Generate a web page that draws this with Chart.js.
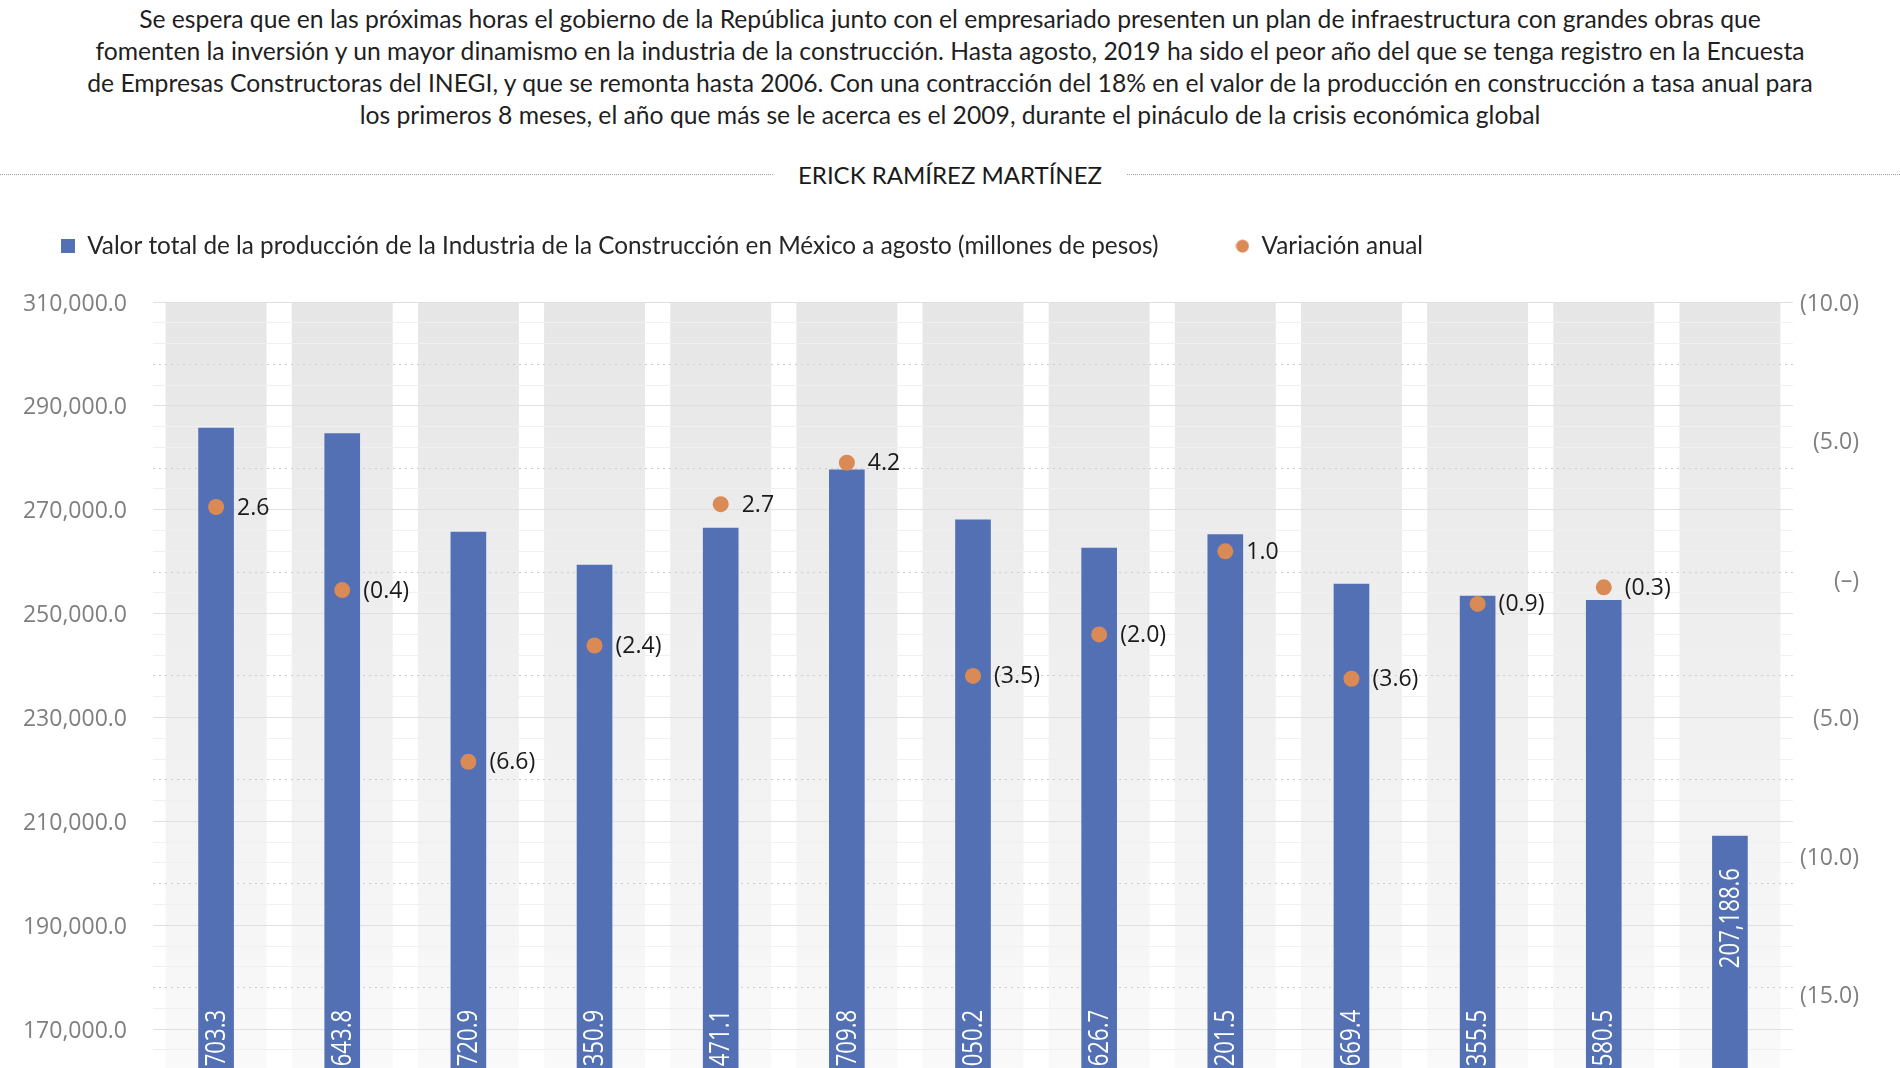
<!DOCTYPE html>
<html lang="es">
<head>
<meta charset="utf-8">
<script src="https://cdn.jsdelivr.net/npm/chart.js@4.4.1/dist/chart.umd.min.js"></script>
<style>
  html, body { margin: 0; padding: 0; width: 1900px; height: 1068px; overflow: hidden; background: #fff; }
  #intro { position: absolute; top: 3px; left: 0; width: 1900px; text-align: center;
    font-family: Lato, "Open Sans", sans-serif; font-size: 24.7px; line-height: 32px; color: #1f1f1f; }
  .rule { position: absolute; top: 174px; border-top: 1px dotted #a0a0a0; height: 0; }
  #author { position: absolute; top: 160px; left: 0; width: 1900px; text-align: center;
    font-family: Lato, "Open Sans", sans-serif; font-size: 24px; line-height: 30px; color: #1a1a1a; }
  #wrap { position: absolute; left: 0; top: 157px; width: 1900px; height: 1021px; }
</style>
</head>
<body>
<div id="intro">
  Se espera que en las próximas horas el gobierno de la República junto con el empresariado presenten un plan de infraestructura con grandes obras que<br>
  fomenten la inversión y un mayor dinamismo en la industria de la construcción. Hasta agosto, 2019 ha sido el peor año del que se tenga registro en la Encuesta<br>
  de Empresas Constructoras del INEGI, y que se remonta hasta 2006. Con una contracción del 18% en el valor de la producción en construcción a tasa anual para<br>
  los primeros 8 meses, el año que más se le acerca es el 2009, durante el pináculo de la crisis económica global
</div>
<div class="rule" style="left:0; width:773px;"></div>
<div class="rule" style="left:1127px; width:773px;"></div>
<div id="author">ERICK RAMÍREZ MARTÍNEZ</div>
<div id="wrap"><canvas id="chart"></canvas></div>

<script>
// datos: Encuesta Nacional de Empresas Constructoras, enero-agosto de cada año
const years = ["2007", "2008", "2009", "2010", "2011", "2012", "2013", "2014", "2015", "2016", "2017", "2018", "2019"];
const produccion = [285703.3, 284643.8, 265720.9, 259350.9, 266471.1, 277709.8, 268050.2, 262626.7, 265201.5, 255669.4, 253355.5, 252580.5, 207188.6];
const variacion = [2.6, -0.4, -6.6, -2.4, 2.7, 4.2, -3.5, -2.0, 1.0, -3.6, -0.9, -0.3, -18.0];

const BLUE = "#5470b4";
const ORANGE = "#d98a55";

const fmtMiles = (v) =>
  v.toLocaleString("en-US", { minimumFractionDigits: 1, maximumFractionDigits: 1 });
const fmtPct = (v) => (v < 0 ? `(${Math.abs(v).toFixed(1)})` : v.toFixed(1));

// little canvases used as legend markers
function marker(size, draw) {
  const c = document.createElement("canvas");
  c.width = size;
  c.height = size;
  draw(c.getContext("2d"), size);
  return c;
}
const squareMark = marker(14, (g, s) => { g.fillStyle = BLUE; g.fillRect(0, 0, s, s); });
const dotMark = marker(14, (g, s) => {
  g.fillStyle = ORANGE;
  g.beginPath();
  g.arc(s / 2, s / 2, 6.5, 0, Math.PI * 2);
  g.fill();
});

// grey column behind every year
const bands = {
  id: "bands",
  beforeDraw(chart) {
    const { ctx, chartArea, scales } = chart;
    const x = scales.x;
    const w = (x.getPixelForValue(1) - x.getPixelForValue(0)) * 0.8;
    const grad = ctx.createLinearGradient(0, chartArea.top, 0, chartArea.bottom);
    grad.addColorStop(0, "#e6e6e6");
    grad.addColorStop(1, "#fbfbfb");
    ctx.save();
    ctx.fillStyle = grad;
    years.forEach((_, i) => {
      const cx = x.getPixelForValue(i);
      ctx.fillRect(cx - w / 2, chartArea.top, w, chartArea.bottom - chartArea.top);
    });
    ctx.restore();
  },
};

// value labels for bars and points
const valueLabels = {
  id: "valueLabels",
  afterDatasetsDraw(chart) {
    const { ctx, chartArea } = chart;
    const bars = chart.getDatasetMeta(0).data;
    const pts = chart.getDatasetMeta(1).data;
    ctx.save();
    ctx.font = '27px "Open Sans"';
    ctx.textBaseline = "middle";
    ctx.fillStyle = "#ffffff";
    bars.forEach((bar, i) => {
      ctx.save();
      const last = i === bars.length - 1;
      // last bar is short: label sits near its top, the rest near the axis
      ctx.translate(bar.x + 1, last ? bar.y + 32 : chartArea.bottom - 23);
      ctx.rotate(-Math.PI / 2);
      ctx.scale(0.82, 1);
      ctx.textAlign = last ? "right" : "left";
      ctx.fillText(fmtMiles(produccion[i]), 0, 0);
      ctx.restore();
    });
    ctx.font = '23px "Open Sans"';
    ctx.fillStyle = "#1a1a1a";
    ctx.textAlign = "left";
    pts.forEach((p, i) => {
      ctx.fillText(fmtPct(variacion[i]), p.x + 21, p.y + 1);
    });
    ctx.restore();
  },
};

// legend: fixed height so the plot starts where it should, and pulled left
const legendSpace = {
  id: "legendSpace",
  beforeInit(chart) {
    const fit = chart.legend.fit;
    chart.legend.fit = function () {
      fit.bind(chart.legend)();
      this.height = 145;
    };
  },
  afterLayout(chart) {
    chart.legend.left = -16;
  },
};

const ctx = document.getElementById("chart").getContext("2d");

new Chart(ctx, {
  data: {
    labels: years,
    datasets: [
      {
        type: "bar",
        label: "Valor total de la producción de la Industria de la Construcción en México a agosto (millones de pesos)",
        data: produccion,
        backgroundColor: BLUE,
        barThickness: 35,
        yAxisID: "y",
        order: 1,
      },
      {
        type: "line",
        label: "Variación anual",
        data: variacion,
        showLine: false,
        pointRadius: 8,
        pointHoverRadius: 8,
        pointBackgroundColor: ORANGE,
        pointBorderWidth: 0,
        backgroundColor: ORANGE,
        borderColor: ORANGE,
        yAxisID: "y1",
        order: 0,
      },
    ],
  },
  options: {
    responsive: true,
    maintainAspectRatio: false,
    animation: false,
    layout: { padding: { left: 0, right: 41, top: 0, bottom: 0 } },
    plugins: {
      tooltip: { enabled: false },
      legend: {
        align: "start",
        labels: {
          usePointStyle: true,
          boxWidth: 14,
          boxHeight: 14,
          padding: 77,
          color: "#262626",
          font: { family: "Lato", size: 24.3 },
          sort: (a, b) => a.datasetIndex - b.datasetIndex,
          generateLabels(chart) {
            const items = Chart.defaults.plugins.legend.labels.generateLabels(chart);
            items.forEach((it) => {
              it.pointStyle = it.datasetIndex === 0 ? squareMark : dotMark;
            });
            return items;
          },
        },
      },
    },
    scales: {
      x: {
        grid: { display: false },
        border: { display: false },
        ticks: { color: "#7f7f7f", font: { family: "Open Sans", size: 23 } },
        afterFit(scale) { scale.height = 45; },
      },
      y: {
        position: "left",
        min: 150000,
        max: 310000,
        border: {
          display: false,
          dash: (c) => (c.tick && c.tick.value % 20000 === 18000 ? [2, 4] : []),
        },
        grid: {
          drawTicks: false,
          color: (c) => {
            const v = c.tick.value;
            if (v % 20000 === 10000) return "#e0e0e0";
            if (v % 20000 === 18000) return "#cdcdcd";
            return "#f0f0f0";
          },
        },
        ticks: {
          stepSize: 4000,
          autoSkip: false,
          padding: 26,
          labelOffset: 2,
          color: "#7f7f7f",
          font: { family: "Open Sans", size: 23 },
          callback: (v) => (v % 20000 === 10000 ? fmtMiles(v) : ""),
        },
        afterFit(scale) { scale.width = 153; },
      },
      y1: {
        position: "right",
        min: -20,
        max: 10,
        grid: { display: false },
        border: { display: false },
        ticks: {
          stepSize: 5,
          padding: 9,
          labelOffset: 2,
          crossAlign: "far",
          color: "#7f7f7f",
          font: { family: "Open Sans", size: 23 },
          callback: (v) => (v === 0 ? "(–)" : `(${Math.abs(v).toFixed(1)})`),
        },
        afterFit(scale) { scale.width = 66; },
      },
    },
  },
  plugins: [bands, valueLabels, legendSpace],
});
</script>
</body>
</html>
